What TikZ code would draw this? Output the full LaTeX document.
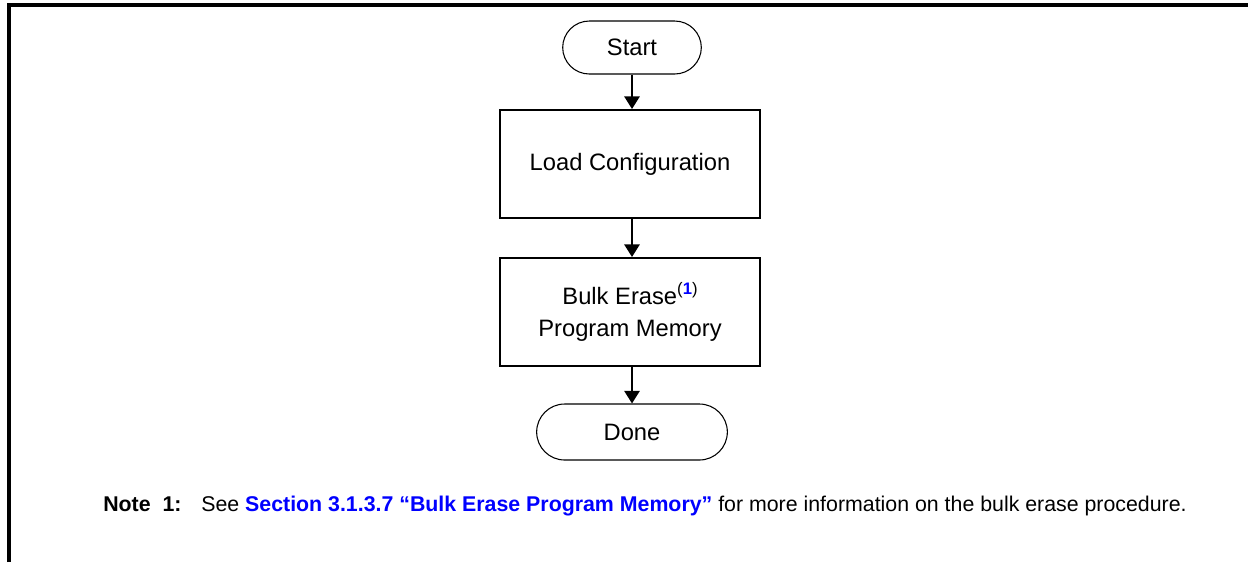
\documentclass[tikz,border=0pt]{standalone}
\usepackage{fontspec}
\setmainfont{Liberation Sans}
\usetikzlibrary{arrows.meta}
\definecolor{linkblue}{RGB}{0,0,255}
\newcommand{\mysup}[1]{\raisebox{0.42em}{\fontsize{12.5}{12}\selectfont #1}}
\begin{document}
\begin{tikzpicture}[x=0.75pt,y=-0.75pt,
  frame/.style={line width=2.6pt},
  term/.style={draw,line width=0.8pt,rounded corners=20pt,minimum width=104pt,minimum height=39.75pt,font=\fontsize{17.8}{20}\selectfont,inner sep=0pt},
  procbox/.style={draw,line width=1.5pt,minimum width=195pt,minimum height=81pt,align=center,font=\fontsize{17.8}{24}\selectfont,inner sep=0pt},
  flow/.style={line width=1.5pt,-{Triangle[length=9.5pt,width=11.5pt]}},
  note/.style={anchor=base west,font=\fontsize{16}{18}\selectfont,inner sep=0pt}]
\useasboundingbox (0,0) rectangle (1248,562);
\draw[frame] (9,562) -- (9,5) -- (1248,5);
\node[term] (start) at (632,47.5) {Start};
\node[procbox] (load) at (630,164) {Load Configuration};
\node[procbox] (bulk) at (630,312) {Bulk Erase\mysup{(\textcolor{linkblue}{\textbf{1}})}\\Program Memory};
\node[term,minimum width=143pt,minimum height=42pt,rounded corners=21pt] (done) at (632,432) {Done};
\draw[flow] (start.south) -- (start.south |- load.north);
\draw[flow] (load.south -| start.south) -- (start.south |- bulk.north);
\draw[flow] (bulk.south -| start.south) -- (start.south |- done.north);
\node[note] (nt) at (103,511) {\textbf{Note\ \ 1:}\hspace{0.93em}See \textcolor{linkblue}{\textbf{Section 3.1.3.7 “Bulk Erase Program Memory”}} for more information on the bulk erase procedure.};
\end{tikzpicture}
\end{document}
